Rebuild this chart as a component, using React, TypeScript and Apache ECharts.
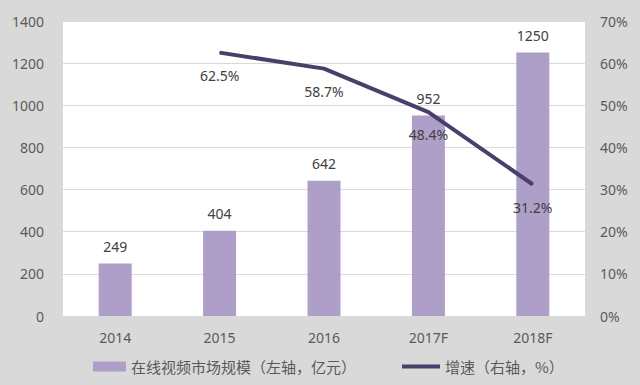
import React, { useEffect, useRef } from "react";
import * as echarts from "echarts";

const categories = ["2014", "2015", "2016", "2017F", "2018F"];
const marketSize = [249, 404, 642, 952, 1250];
const growthRate: (number | null)[] = [null, 62.5, 58.7, 48.4, 31.2];
const barName = "在线视频市场规模（左轴，亿元）";
const lineName = "增速（右轴，%）";

export default function App() {
  const ref = useRef<HTMLDivElement>(null);
  useEffect(() => {
    if (!ref.current) return;
    const chart = echarts.init(ref.current, undefined, { renderer: "svg" });
    const axisFont = { color: "#595959", fontSize: 14, fontFamily: "Noto Sans" };
    chart.setOption({
      animation: false,
      backgroundColor: "#d9d9d9",
      grid: {
        left: 63,
        right: 55,
        top: 21,
        bottom: 69,
        show: true,
        backgroundColor: "#ffffff",
        borderWidth: 0,
      },
      legend: [
        {
          left: 88,
          top: 354,
          data: [{ name: barName, icon: "rect" }],
          itemWidth: 33,
          itemHeight: 10,
          itemGap: 6,
          textStyle: { color: "#595959", fontSize: 15, fontFamily: "Noto Sans CJK SC" },
        },
        {
          left: 397,
          top: 354,
          data: [{ name: lineName, icon: "rect" }],
          itemWidth: 38,
          itemHeight: 4,
          textStyle: { color: "#595959", fontSize: 15, fontFamily: "Noto Sans CJK SC" },
        },
      ],
      xAxis: {
        type: "category",
        data: categories,
        axisLine: { show: false },
        axisTick: { show: false },
        axisLabel: { ...axisFont, margin: 14 },
      },
      yAxis: [
        {
          type: "value",
          min: 0,
          max: 1400,
          interval: 200,
          axisLine: { show: false },
          axisTick: { show: false },
          axisLabel: { ...axisFont, margin: 19, formatter: (v: number) => String(v) },
          splitLine: { lineStyle: { color: "#d9d9d9", width: 1 } },
        },
        {
          type: "value",
          min: 0,
          max: 70,
          interval: 10,
          axisLine: { show: false },
          axisTick: { show: false },
          axisLabel: { ...axisFont, margin: 15, formatter: "{value}%" },
          splitLine: { show: false },
        },
      ],
      series: [
        {
          name: barName,
          type: "bar",
          data: marketSize,
          barWidth: 33,
          itemStyle: { color: "#ae9fc8" },
          label: {
            show: true,
            position: "top",
            distance: 10,
            color: "#404040",
            fontSize: 14,
            fontFamily: "Noto Sans",
          },
        },
        {
          name: lineName,
          type: "line",
          yAxisIndex: 1,
          data: growthRate,
          symbol: "circle",
          symbolSize: 1,
          showSymbol: true,
          lineStyle: { color: "#4a3f6b", width: 4 },
          itemStyle: { color: "#4a3f6b" },
          label: {
            show: true,
            position: "bottom",
            distance: 15,
            color: "#404040",
            fontSize: 14,
            fontFamily: "Noto Sans",
            formatter: (p: any) => p.value + "%",
          },
        },
      ],
    });
    return () => chart.dispose();
  }, []);
  return (
    <div
      ref={ref}
      style={{ position: "fixed", left: 0, top: 0, width: 640, height: 385 }}
    />
  );
}
